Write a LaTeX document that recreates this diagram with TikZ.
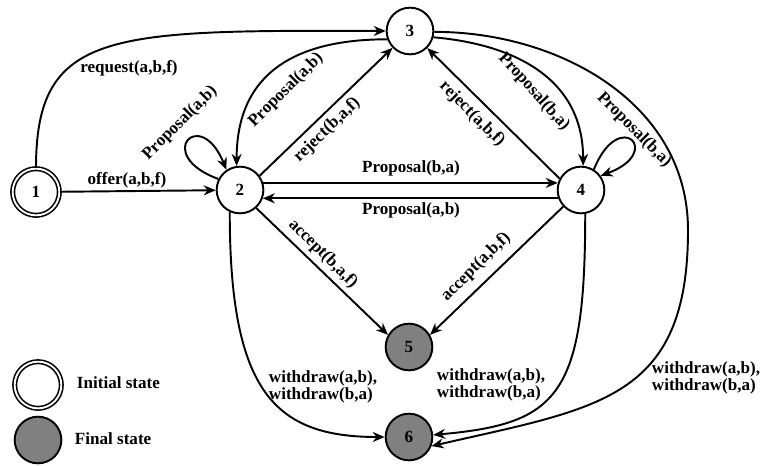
\documentclass[tikz,border=0pt]{standalone}
\usepackage{fontspec}
\setmainfont{Liberation Serif}
\usetikzlibrary{arrows.meta}

\begin{document}
\begin{tikzpicture}[x=0.75pt,y=0.75pt,line width=1.45pt,
  font=\fontsize{12.8}{12.3}\selectfont\bfseries,
  state/.style={circle,draw,minimum size=35pt,inner sep=0pt},
  start/.style={state,double,double distance=1.4pt,line width=1.2pt},
  final/.style={state,fill=gray},
  arr/.style={-{Stealth[length=9pt,width=7.5pt]}}]
  \useasboundingbox (0,0) rectangle (762,465);

  \node[start] (n1) at (36,273) {1};
  \node[state] (n2) at (240,275) {2};
  \node[state] (n3) at (410,434) {3};
  \node[state] (n4) at (581,275) {4};
  \node[final] (n5) at (409,118) {5};
  \node[final] (n6) at (409,28) {6};

  \draw[arr] (n1) -- (n2);
  \draw[arr] (n1.north) .. controls (36,435) and (110,435) .. (n3.west);
  \draw[arr] (n2.153) .. controls +(160:70) and +(112:70) .. (n2.124);
  \draw[arr] (n3.200) to[out=180,in=90,looseness=1.2] (n2.98);
  \draw[arr] (n2.36) -- (n3);
  \draw[arr] (n2.17) -- (n4.163);
  \draw[arr] (n4.-160) -- (n2.-20);
  \draw[arr] (n4.152) -- (n3);
  \draw[arr] (n3.-15) to[out=-5,in=90,looseness=1.1] (n4.85);
  \draw[arr] (n4.58) .. controls +(68:68) and +(20:68) .. (n4.36);
  \draw[arr] (n2.-48) -- (n5.150);
  \draw[arr] (n4.223) -- (n5.30);
  \draw[arr] (n2.245) .. controls +(0,-180) and +(-110,0) .. (n6.west);
  \draw[arr] (n4.-80) .. controls +(0,-182) and +(125,11) .. (n6.5);
  \coordinate (c36) at (688,235);
  \draw[arr] (n3.-2) to[out=0,in=90] (c36) to[out=-90,in=13,looseness=1.3] (n6.-22);

  \node (l1) at (129,397) {request(a,b,f)};
  \node (l2) at (127,285) {offer(a,b,f)};
  \node[rotate=45] (l3) at (180,342) {Proposal(a,b)};
  \node[rotate=45] (l4) at (286,375) {Proposal(a,b)};
  \node[rotate=44] (l5) at (327,335) {reject(b,a,f)};
  \node (l6) at (411,297) {Proposal(b,a)};
  \node (l7) at (411,255) {Proposal(a,b)};
  \node[rotate=-45] (l8) at (472,351) {reject(a,b,f)};
  \node[rotate=-48] (l9) at (534,373) {Proposal(b,a)};
  \node[rotate=-45] (l10) at (634,335) {Proposal(b,a)};
  \node[rotate=-45] (l11) at (323,211) {accept(b,a,f)};
  \node[rotate=45] (l12) at (476,198) {accept(a,b,f)};
  \node[align=left] (l13) at (323,78) {withdraw(a,b),\\withdraw(b,a)};
  \node[align=left] (l14) at (491,80) {withdraw(a,b),\\withdraw(b,a)};
  \node[align=left] (l15) at (706,87) {withdraw(a,b),\\withdraw(b,a)};

  \node[start] (k1) at (38,80) {};
  \node[final] (k2) at (38,25) {};
  \node[anchor=west,inner sep=0pt] (t1) at (76,82) {Initial state};
  \node[anchor=west,inner sep=0pt] (t2) at (74,26) {Final state};
\end{tikzpicture}
\end{document}
